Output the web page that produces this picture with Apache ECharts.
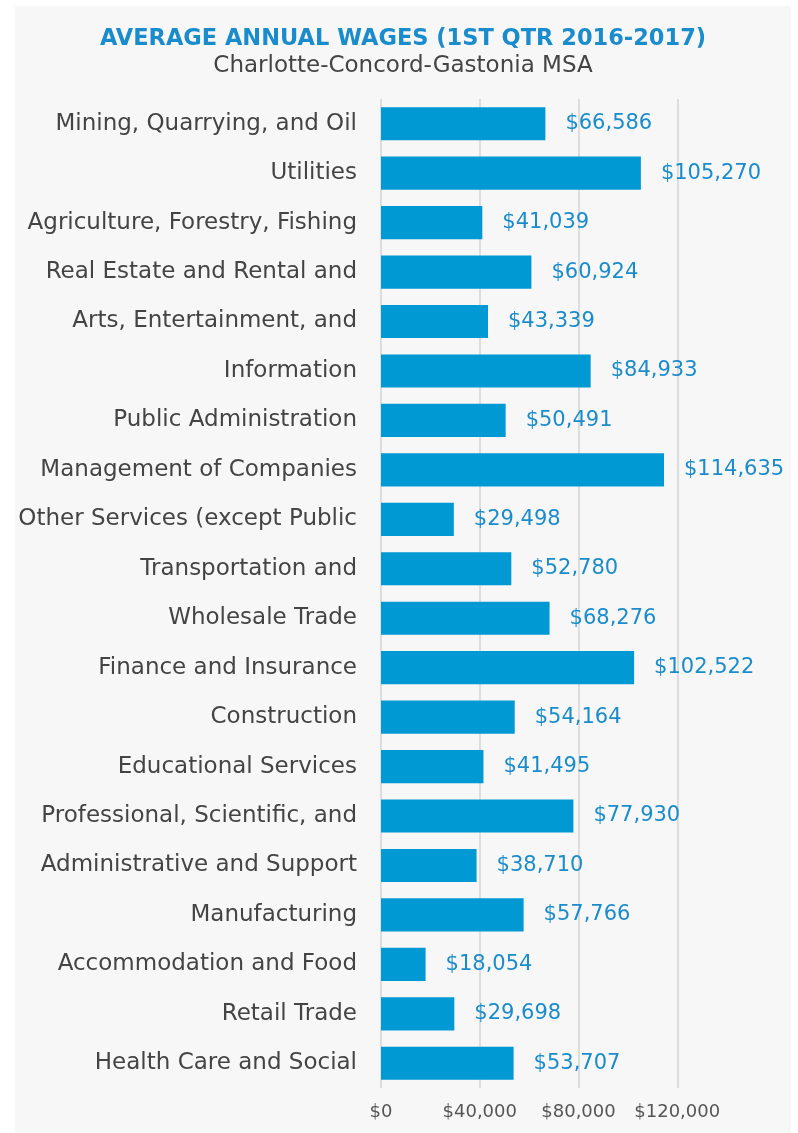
<!DOCTYPE html>
<html>
<head>
<meta charset="utf-8">
<script src="https://cdn.jsdelivr.net/npm/echarts@6/dist/echarts.min.js"></script>
<style>
html,body{margin:0;padding:0;background:#ffffff;}
#chart{position:absolute;left:15px;top:6px;width:776px;height:1127px;background:#f7f7f7;}
</style>
</head>
<body>
<div id="chart"></div>
<script>
const categories = [
  "Mining, Quarrying, and Oil",
  "Utilities",
  "Agriculture, Forestry, Fishing",
  "Real Estate and Rental and",
  "Arts, Entertainment, and",
  "Information",
  "Public Administration",
  "Management of Companies",
  "Other Services (except Public",
  "Transportation and",
  "Wholesale Trade",
  "Finance and Insurance",
  "Construction",
  "Educational Services",
  "Professional, Scientific, and",
  "Administrative and Support",
  "Manufacturing",
  "Accommodation and Food",
  "Retail Trade",
  "Health Care and Social"
];
const wages = [66586, 105270, 41039, 60924, 43339, 84933, 50491, 114635, 29498, 52780, 68276, 102522, 54164, 41495, 77930, 38710, 57766, 18054, 29698, 53707];
const titleText = "AVERAGE ANNUAL WAGES (1ST QTR 2016-2017)";
const subtitleText = "Charlotte-Concord-Gastonia MSA";

function money(v){ return '$' + v.toLocaleString('en-US'); }

const chart = echarts.init(document.getElementById('chart'), null, {renderer:'canvas'});
chart.setOption({
  backgroundColor: 'transparent',
  animation: false,
  title: {
    text: titleText,
    subtext: subtitleText,
    left: 'center',
    top: 17,
    itemGap: 4,
    textStyle: {fontFamily: 'DejaVu Sans', fontSize: 22.5, fontWeight: 'bold', color: '#1a8ccc'},
    subtextStyle: {fontFamily: 'DejaVu Sans', fontSize: 23, color: '#444444'}
  },
  grid: {left: 366, right: 15, top: 93, bottom: 45, containLabel: false},
  xAxis: {
    type: 'value',
    min: 0, max: 160000, interval: 40000,
    axisLine: {show: false},
    axisTick: {show: false},
    splitLine: {show: true, lineStyle: {color: ['#dddddd','#dddddd','#dddddd','#dddddd','rgba(0,0,0,0)'], width: 2}},
    axisLabel: {
      fontFamily: 'DejaVu Sans', fontSize: 18, color: '#555555', margin: 15,
      formatter: v => v >= 160000 ? '' : money(v)
    }
  },
  yAxis: {
    type: 'category',
    data: categories,
    inverse: true,
    axisLine: {show: false},
    axisTick: {show: false},
    axisLabel: {fontFamily: 'DejaVu Sans', fontSize: 23, color: '#444444', margin: 24}
  },
  series: [{
    type: 'bar',
    data: wages,
    barCategoryGap: '33%',
    itemStyle: {color: '#0099d4'},
    label: {
      show: true, position: 'right', distance: 20,
      fontFamily: 'DejaVu Sans', fontSize: 21, color: '#1a8ccb',
      formatter: p => money(p.value)
    }
  }]
});
</script>
</body>
</html>
